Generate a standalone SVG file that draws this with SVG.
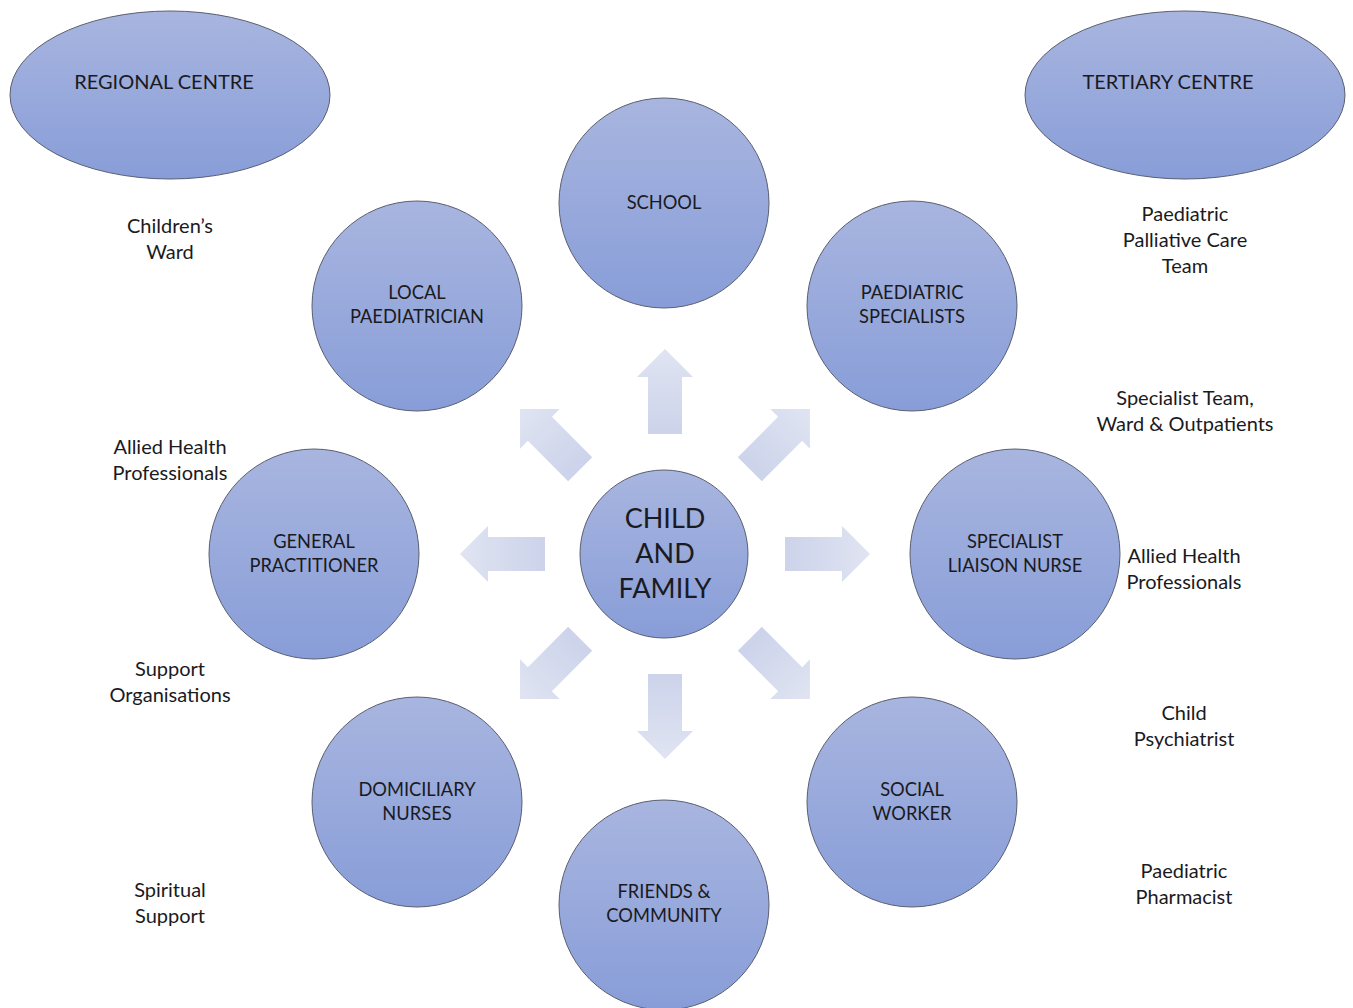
<svg xmlns="http://www.w3.org/2000/svg" width="1353" height="1008" viewBox="0 0 1353 1008">
<defs>
<linearGradient id="g" x1="0" y1="0" x2="0" y2="1">
<stop offset="0" stop-color="#a8b5df"/>
<stop offset="1" stop-color="#889dd8"/>
</linearGradient>
<linearGradient id="ga" x1="0" y1="0" x2="0" y2="1">
<stop offset="0" stop-color="#e0e4f2"/>
<stop offset="1" stop-color="#ccd3ea"/>
</linearGradient>
<path id="arr" d="M665,349 L693,377 L682,377 L682,434 L648,434 L648,377 L637,377 Z"/>
</defs>
<style>
.n{fill:url(#g);stroke:#5a5f70;stroke-width:1}
.a{fill:url(#ga)}
text{font-family:Lato,"Open Sans","Liberation Sans",sans-serif;fill:#1a1a22;text-anchor:middle}
.t{font-size:18.3px}
.h{font-size:20px}
.c{font-size:27px}
.s{font-size:20px}
</style>
<rect width="1353" height="1008" fill="#ffffff"/>
<g id="connectors">
<use href="#arr" class="a"/>
<use href="#arr" class="a" transform="rotate(45 665 554)"/>
<use href="#arr" class="a" transform="rotate(90 665 554)"/>
<use href="#arr" class="a" transform="rotate(135 665 554)"/>
<use href="#arr" class="a" transform="rotate(180 665 554)"/>
<use href="#arr" class="a" transform="rotate(225 665 554)"/>
<use href="#arr" class="a" transform="rotate(270 665 554)"/>
<use href="#arr" class="a" transform="rotate(315 665 554)"/>
</g>
<g id="regional"><ellipse class="n" cx="170" cy="95" rx="160" ry="84"/><text class="h" x="164" y="89">REGIONAL CENTRE</text></g>
<g id="tertiary"><ellipse class="n" cx="1185" cy="95" rx="160" ry="84"/><text class="h" x="1168" y="89">TERTIARY CENTRE</text></g>
<g id="school"><circle class="n" cx="664" cy="203" r="105"/><text class="t" x="664" y="209">SCHOOL</text></g>
<g id="local"><circle class="n" cx="417" cy="306" r="105"/><text class="t" x="417" y="299">LOCAL</text><text class="t" x="417" y="323">PAEDIATRICIAN</text></g>
<g id="specialists"><circle class="n" cx="912" cy="306" r="105"/><text class="t" x="912" y="299">PAEDIATRIC</text><text class="t" x="912" y="323">SPECIALISTS</text></g>
<g id="gp"><circle class="n" cx="314" cy="554" r="105"/><text class="t" x="314" y="548">GENERAL</text><text class="t" x="314" y="572">PRACTITIONER</text></g>
<g id="liaison"><circle class="n" cx="1015" cy="554" r="105"/><text class="t" x="1015" y="548">SPECIALIST</text><text class="t" x="1015" y="572">LIAISON NURSE</text></g>
<g id="domiciliary"><circle class="n" cx="417" cy="802" r="105"/><text class="t" x="417" y="796">DOMICILIARY</text><text class="t" x="417" y="820">NURSES</text></g>
<g id="social"><circle class="n" cx="912" cy="802" r="105"/><text class="t" x="912" y="796">SOCIAL</text><text class="t" x="912" y="820">WORKER</text></g>
<g id="friends"><circle class="n" cx="664" cy="905" r="105"/><text class="t" x="664" y="898">FRIENDS &amp;</text><text class="t" x="664" y="922">COMMUNITY</text></g>
<g id="child"><circle class="n" cx="664" cy="554" r="84"/><text class="c" x="665" y="528">CHILD</text><text class="c" x="665" y="563">AND</text><text class="c" x="665" y="598">FAMILY</text></g>
<g id="labels">
<text class="s" x="170" y="233">Children’s</text><text class="s" x="170" y="259">Ward</text>
<text class="s" x="170" y="454">Allied Health</text><text class="s" x="170" y="480">Professionals</text>
<text class="s" x="170" y="676">Support</text><text class="s" x="170" y="702">Organisations</text>
<text class="s" x="170" y="897">Spiritual</text><text class="s" x="170" y="923">Support</text>
<text class="s" x="1185" y="221">Paediatric</text><text class="s" x="1185" y="247">Palliative Care</text><text class="s" x="1185" y="273">Team</text>
<text class="s" x="1185" y="405">Specialist Team,</text><text class="s" x="1185" y="431">Ward &amp; Outpatients</text>
<text class="s" x="1184" y="563">Allied Health</text><text class="s" x="1184" y="589">Professionals</text>
<text class="s" x="1184" y="720">Child</text><text class="s" x="1184" y="746">Psychiatrist</text>
<text class="s" x="1184" y="878">Paediatric</text><text class="s" x="1184" y="904">Pharmacist</text>
</g>
</svg>
